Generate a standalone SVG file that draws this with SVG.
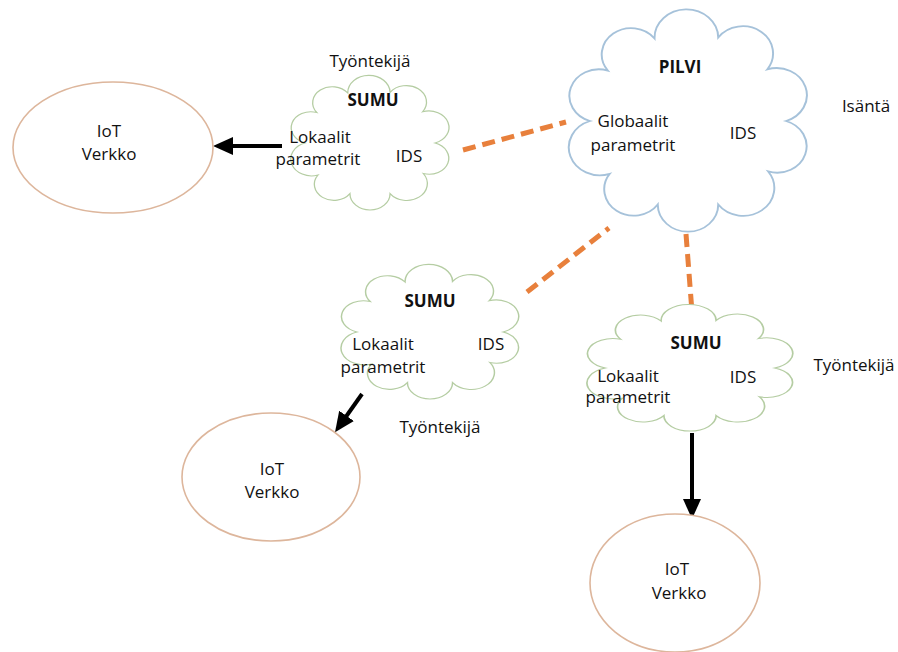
<svg xmlns="http://www.w3.org/2000/svg" xmlns:xlink="http://www.w3.org/1999/xlink" width="898" height="652" viewBox="0 0 898 652">
<style>
  text { font-family: "Open Sans", "Noto Sans", "Liberation Sans", sans-serif; font-size: 17px; fill: #111; text-anchor: middle; }
  .b { font-weight: bold; }
  .fog { fill: #fff; stroke: #B5CDA3; stroke-width: 1.4; vector-effect: non-scaling-stroke; }
  .sky { fill: #fff; stroke: #A6C2DA; stroke-width: 1.4; vector-effect: non-scaling-stroke; }
  .net { fill: #fff; stroke: #DDB69C; stroke-width: 1.6; }
  .dash { stroke: #E8803C; stroke-width: 5; stroke-dasharray: 13 7; fill: none; }
  .arr { stroke: #000; stroke-width: 4; fill: none; marker-end: url(#head); }
</style>
<defs>
  <path id="cloud" d="M70,0 A21,21 0 0,1 57.3,40.2 A22,22 0 0,1 21.6,66.6 A21.5,21.5 0 0,1 -21.6,66.6 A21,21 0 0,1 -55.9,42.1 A22,22 0 0,1 -70,0 A21,21 0 0,1 -57.3,-40.2 A21,21 0 0,1 -23.9,-65.8 A22.5,22.5 0 0,1 21.6,-66.6 A21.5,21.5 0 0,1 56.6,-41.1 A21.5,21.5 0 0,1 70,0 Z"/>
  <marker id="head" markerUnits="userSpaceOnUse" markerWidth="22" markerHeight="20" refX="2" refY="9" orient="auto">
    <path d="M0,0 L20,9 L0,18 Z" fill="#000"/>
  </marker>
</defs>

<g id="connectors">
  <line class="dash" x1="463" y1="150" x2="566" y2="122"/>
  <line class="dash" x1="527" y1="292" x2="609" y2="228"/>
  <line class="dash" x1="686" y1="234" x2="692" y2="312"/>
  <line class="arr" x1="282" y1="146" x2="231" y2="146"/>
  <line class="arr" x1="362" y1="394" x2="345.4" y2="417.5"/>
  <line class="arr" x1="692" y1="433" x2="692" y2="501"/>
</g>

<g id="iot-left">
  <ellipse class="net" cx="113" cy="147.5" rx="100" ry="65.5"/>
  <text x="109" y="137">IoT</text>
  <text x="109" y="160">Verkko</text>
</g>

<g id="sumu-top">
  <use xlink:href="#cloud" class="fog" transform="translate(370,143) scale(0.93,0.76)"/>
  <text x="370" y="67">Työntekijä</text>
  <text class="b" x="373" y="106">SUMU</text>
  <text x="320" y="143">Lokaalit</text>
  <text x="318" y="165">parametrit</text>
  <text x="409" y="162">IDS</text>
</g>

<g id="pilvi">
  <use xlink:href="#cloud" class="sky" transform="translate(688,121) scale(1.4,1.255)"/>
  <text class="b" x="680" y="73">PILVI</text>
  <text x="633" y="127">Globaalit</text>
  <text x="633" y="151">parametrit</text>
  <text x="743" y="139">IDS</text>
  <text x="866" y="112">Isäntä</text>
</g>

<g id="sumu-middle">
  <use xlink:href="#cloud" class="fog" transform="translate(430,332) scale(1.045,0.76)"/>
  <text class="b" x="430" y="307">SUMU</text>
  <text x="383" y="350">Lokaalit</text>
  <text x="383" y="373">parametrit</text>
  <text x="491" y="350">IDS</text>
  <text x="440" y="433">Työntekijä</text>
</g>

<g id="iot-bottom-left">
  <ellipse class="net" cx="271" cy="477" rx="89" ry="64"/>
  <text x="272" y="475">IoT</text>
  <text x="272" y="498">Verkko</text>
</g>

<g id="sumu-right">
  <use xlink:href="#cloud" class="fog" transform="translate(690,368) scale(1.21,0.715)"/>
  <text class="b" x="696" y="349">SUMU</text>
  <text x="628" y="382">Lokaalit</text>
  <text x="628" y="403">parametrit</text>
  <text x="743" y="383">IDS</text>
  <text x="854" y="371">Työntekijä</text>
</g>

<g id="iot-bottom-right">
  <ellipse class="net" cx="675" cy="583" rx="85" ry="69"/>
  <text x="677" y="575">IoT</text>
  <text x="679" y="599">Verkko</text>
</g>
</svg>
